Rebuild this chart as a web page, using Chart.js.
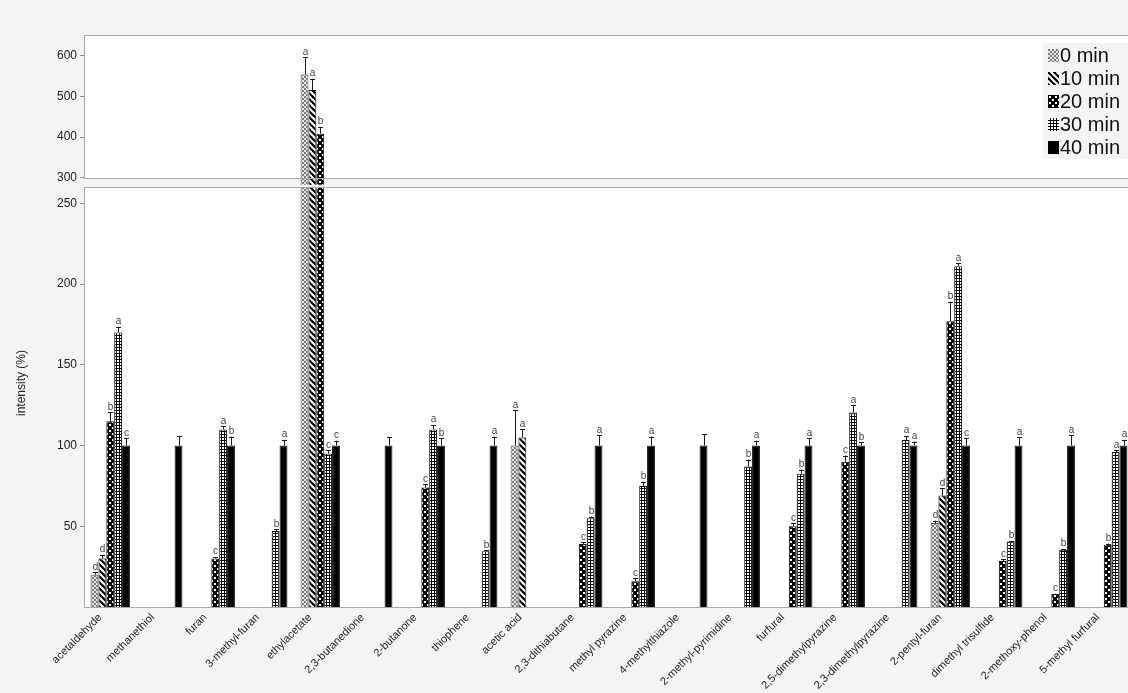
<!DOCTYPE html>
<html>
<head>
<meta charset="utf-8">
<script src="https://cdn.jsdelivr.net/npm/chart.js@4.4.1/dist/chart.umd.min.js"></script>
<style>
  html, body { margin: 0; padding: 0; background: #f4f4f4; overflow: hidden; }
  #wrap { position: relative; width: 1128px; height: 693px; overflow: hidden; background: #f4f4f4; }
  #topChart { position: absolute; left: 0; top: 0; z-index: 2; }
  #bottomChart { position: absolute; left: 0; top: 177px; z-index: 1; }
  #legend { position: absolute; left: 1043px; top: 43px; width: 100px; height: 115px; background: #f4f4f4; z-index: 3;
            font-family: "Liberation Sans", Arial, sans-serif; font-size: 20px; color: #111; padding-top: 1px; }
  #legend .row { display: flex; align-items: center; height: 23px; padding-left: 5px; }
  #legend canvas { display: block; margin-right: 1px; }
</style>
</head>
<body>
<div id="wrap">
  <canvas id="topChart" width="1134" height="188"></canvas>
  <canvas id="bottomChart" width="1134" height="516"></canvas>
  <div id="legend"></div>
</div>
<script>
// Volatile compounds, intensity relative to 40 min (%)
const compounds = ['acetaldehyde', 'methanethiol', 'furan', '3-methyl-furan', 'ethylacetate', '2,3-butanedione',
  '2-butanone', 'thiophene', 'acetic acid', '2,3-dithiabutane', 'methyl pyrazine', '4-methylthiazole',
  '2-methyl-pyrimidine', 'furfural', '2,5-dimethylpyrazine', '2,3-dimethylpyrazine', '2-pentyl-furan',
  'dimethyl trisulfide', '2-methoxy-phenol', '5-methyl furfural'];

const seriesNames = ['0 min', '10 min', '20 min', '30 min', '40 min'];

const min0  = [20, null, null, null, 553, null, null, null, 100, null, null, null, null, null, null, null, 52, null, null, null];
const min10 = [30, null, null, null, 515, null, null, null, 105, null, null, null, null, null, null, null, 69, null, null, null];
const min20 = [115, null, 30, null, 408, null, 74, null, null, 39, 16, null, null, 50, 90, null, 177, 28.5, 8, 38.5];
const min30 = [170, null, 110, 47, 95, null, 110, 34.5, null, 55, 75, null, 87, 82.5, 120.5, 103.5, 211, 40.5, 35.5, 96];
const min40 = [100, 100, 100, 100, 100, 100, 100, 100, null, 100, 100, 100, 100, 100, 100, 100, 100, 100, 100, 100];

// standard deviations
const err0  = [1.5, null, null, null, 43, null, null, null, 22, null, null, null, null, null, null, null, 1.5, null, null, null];
const err10 = [2.5, null, null, null, 28, null, null, null, 5, null, null, null, null, null, null, null, 4.5, null, null, null];
const err20 = [5.5, null, 1, null, 17, null, 2, null, null, 1.2, 1.8, null, null, 1.8, 3.8, null, 12, 1, 0.3, 0.8];
const err30 = [3.5, null, 2, 1, 2, null, 2.8, 0.8, null, 1, 2.5, null, 4.3, 2.5, 4.5, 2.5, 2, 0.5, 0.5, 1];
const err40 = [4.5, 6, 5.5, 3.5, 3, 5, 4.5, 5.5, null, 6.5, 5.5, 7, 3, 4.5, 2, 2.5, 4.5, 5, 6.5, 3.5];

// significance letters
const sig0  = ['d', '', '', '', 'a', '', '', '', 'a', '', '', '', '', '', '', '', 'd', '', '', ''];
const sig10 = ['d', '', '', '', 'a', '', '', '', 'a', '', '', '', '', '', '', '', 'd', '', '', ''];
const sig20 = ['b', '', 'c', '', 'b', '', 'c', '', '', 'c', 'c', '', '', 'c', 'c', '', 'b', 'c', 'c', 'b'];
const sig30 = ['a', '', 'a', 'b', 'c', '', 'a', 'b', '', 'b', 'b', '', 'b', 'b', 'a', 'a', 'a', 'b', 'b', 'a'];
const sig40 = ['c', '', 'b', 'a', 'c', '', 'b', 'a', '', 'a', 'a', '', 'a', 'a', 'b', 'a', 'c', 'a', 'a', 'a'];

// axis ticks
const upperTicks = [300, 400, 500, 600];
const lowerTicks = [50, 100, 150, 200, 250];
const yTitle = 'intensity (%)';

const values = [min0, min10, min20, min30, min40];
const errors = [err0, err10, err20, err30, err40];
const letters = [sig0, sig10, sig20, sig30, sig40];

// ---- hatch fills ----
function tile(w, h, paint) {
  const c = document.createElement('canvas');
  c.width = w; c.height = h;
  const g = c.getContext('2d');
  paint(g, w, h);
  return c;
}
const tiles = [
  tile(4, 4, (g) => {            // grey stipple
    for (let y = 0; y < 4; y++) for (let x = 0; x < 4; x++) {
      g.fillStyle = (((x >> 1) + (y >> 1)) % 2 === 0) ? '#7c7c7c' : '#e6e6e6';
      g.fillRect(x, y, 1, 1);
    }
  }),
  tile(6, 6, (g) => {            // back diagonal
    g.fillStyle = '#fff'; g.fillRect(0, 0, 6, 6);
    g.strokeStyle = '#000'; g.lineWidth = 2.2;
    for (const o of [-6, 0, 6]) { g.beginPath(); g.moveTo(o - 1, -1); g.lineTo(o + 7, 7); g.stroke(); }
  }),
  tile(6, 6, (g) => {            // black lattice with white dots
    g.fillStyle = '#000'; g.fillRect(0, 0, 6, 6);
    g.fillStyle = '#fff'; g.fillRect(1, 1, 2, 2); g.fillRect(4, 4, 2, 2);
  }),
  tile(3, 3, (g) => {            // square grid
    g.fillStyle = '#000'; g.fillRect(0, 0, 3, 3);
    g.fillStyle = '#fff'; g.fillRect(0, 0, 2, 2);
  }),
  tile(2, 2, (g) => { g.fillStyle = '#000'; g.fillRect(0, 0, 2, 2); })
];
const fills = tiles.map(t => document.createElement('canvas').getContext('2d').createPattern(t, 'repeat'));
const borders = ['#555', '#111', '#111', '#111', '#111'];

function makeDatasets(clip) {
  return seriesNames.map((name, i) => ({
    label: name,
    data: values[i],
    backgroundColor: fills[i],
    borderColor: borders[i],
    borderWidth: 1,
    borderSkipped: 'start',
    categoryPercentage: 0.75,
    barPercentage: 1.0,
    clip: clip
  }));
}

// white plot panel and grey frame
const panelPlugin = {
  id: 'panel',
  beforeDraw(chart) {
    const { ctx, chartArea: a } = chart;
    ctx.save();
    ctx.fillStyle = '#ffffff';
    ctx.fillRect(a.left, a.top, a.right - a.left, a.bottom - a.top);
    ctx.restore();
  },
  afterDraw(chart) {
    const { ctx, chartArea: a } = chart;
    ctx.save();
    ctx.strokeStyle = '#a9a9a9';
    ctx.lineWidth = 1;
    ctx.strokeRect(Math.round(a.left) + 0.5, Math.round(a.top) + 0.5, Math.round(a.right - a.left), Math.round(a.bottom - a.top));
    ctx.restore();
  }
};

// standard deviation whiskers and significance letters
const errorPlugin = {
  id: 'errorBars',
  afterDatasetsDraw(chart) {
    const { ctx, chartArea: a } = chart;
    const y = chart.scales.y;
    ctx.save();
    ctx.beginPath();
    ctx.rect(a.left, a.top, a.right - a.left, a.bottom - a.top);
    ctx.clip();
    ctx.strokeStyle = '#1a1a1a';
    ctx.lineWidth = 1;
    ctx.font = '10px "Liberation Sans", Arial, sans-serif';
    ctx.fillStyle = '#444';
    ctx.textAlign = 'center';
    ctx.textBaseline = 'alphabetic';
    values.forEach((vals, di) => {
      const meta = chart.getDatasetMeta(di);
      meta.data.forEach((bar, i) => {
        const v = vals[i];
        if (v === null) return;
        const e = errors[di][i] || 0;
        const x = Math.round(bar.x) + 0.5;
        const yTop = y.getPixelForValue(v + e);
        const yBar = y.getPixelForValue(v);
        if (e > 0) {
          ctx.beginPath();
          ctx.moveTo(x, yBar); ctx.lineTo(x, yTop);
          ctx.moveTo(x - 2.5, Math.round(yTop) + 0.5); ctx.lineTo(x + 2.5, Math.round(yTop) + 0.5);
          ctx.stroke();
        }
        const s = letters[di][i];
        if (s && v + e <= y.max) ctx.fillText(s, x, yTop - 2.5);
      });
    });
    ctx.restore();
  }
};

// rotated y-axis caption
const captionPlugin = {
  id: 'caption',
  afterDraw(chart, args, opts) {
    if (!opts.text) return;
    const { ctx } = chart;
    ctx.save();
    ctx.translate(opts.x, opts.y);
    ctx.rotate(-Math.PI / 2);
    ctx.font = '12px "Liberation Sans", Arial, sans-serif';
    ctx.fillStyle = '#222';
    ctx.textAlign = 'center';
    ctx.textBaseline = 'middle';
    ctx.fillText(opts.text, 0, 0);
    ctx.restore();
  }
};

Chart.defaults.font.family = '"Liberation Sans", Arial, sans-serif';
Chart.defaults.color = '#222';

const commonX = (showLabels) => ({
  type: 'category',
  labels: compounds,
  offset: true,
  display: showLabels,
  grid: { display: false },
  border: { display: false },
  ticks: { autoSkip: false, maxRotation: 45, minRotation: 45, padding: -4, labelOffset: -10, font: { size: 11 }, color: '#222' },
  afterFit(scale) { if (showLabels) scale.height = 86; }
});

function yAxis(min, max, tickList) {
  return {
    type: 'linear',
    min: min,
    max: max,
    afterBuildTicks(scale) { scale.ticks = tickList.map(v => ({ value: v })); },
    grid: { drawOnChartArea: false, drawTicks: true, tickLength: 4, color: '#8c8c8c' },
    border: { display: false },
    ticks: { padding: 3, font: { size: 12 }, color: '#222' },
    afterFit(scale) { scale.width = 84; }
  };
}

const basePlugins = { legend: { display: false }, tooltip: { enabled: false } };

new Chart(document.getElementById('topChart'), {
  type: 'bar',
  data: { labels: compounds, datasets: makeDatasets({ left: 0, top: 0, right: 0, bottom: 7 }) },
  options: {
    responsive: false, animation: false, devicePixelRatio: 1,
    plugins: Object.assign({ caption: { text: '' } }, basePlugins),
    layout: { padding: { top: 35, bottom: 8, left: 0, right: 0 } },
    scales: { x: commonX(false), y: yAxis(300, 650, upperTicks) }
  },
  plugins: [panelPlugin, errorPlugin, captionPlugin]
});

new Chart(document.getElementById('bottomChart'), {
  type: 'bar',
  data: { labels: compounds, datasets: makeDatasets(0) },
  options: {
    responsive: false, animation: false, devicePixelRatio: 1,
    plugins: Object.assign({ caption: { text: yTitle, x: 22, y: 206 } }, basePlugins),
    layout: { padding: { top: 10, bottom: 0, left: 0, right: 0 } },
    scales: { x: commonX(true), y: yAxis(0, 260, lowerTicks) }
  },
  plugins: [panelPlugin, errorPlugin, captionPlugin]
});

// legend with hatch swatches
const legend = document.getElementById('legend');
seriesNames.forEach((name, i) => {
  const row = document.createElement('div');
  row.className = 'row';
  const sw = document.createElement('canvas');
  sw.width = 11; sw.height = 13;
  const g = sw.getContext('2d');
  g.fillStyle = g.createPattern(tiles[i], 'repeat');
  g.fillRect(0, 0, 11, 13);
  row.appendChild(sw);
  const t = document.createElement('span');
  t.textContent = name;
  row.appendChild(t);
  legend.appendChild(row);
});
</script>
</body>
</html>
